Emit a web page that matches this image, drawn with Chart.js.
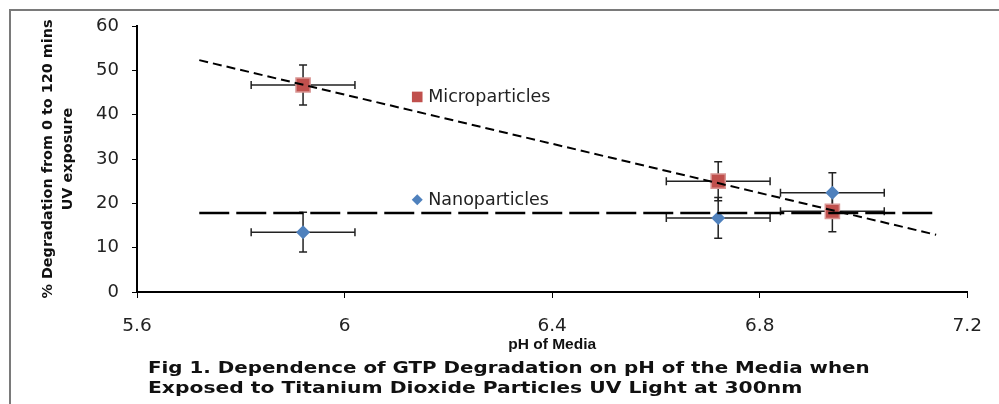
<!DOCTYPE html>
<html>
<head>
<meta charset="utf-8">
<script src="https://cdn.jsdelivr.net/npm/chart.js@4.4.1/dist/chart.umd.min.js"></script>
<style>
  html, body { margin: 0; padding: 0; background: #fff; overflow: hidden; }
  #wrap { position: relative; width: 999px; height: 404px; overflow: hidden; }
  .rule { position: absolute; background: #7a7a7a; }
  #chart { position: absolute; left: 0; top: 0; }
  .caption {
    position: absolute; left: 148px;
    font: bold 16px 'DejaVu Sans', Verdana, sans-serif; color: #111;
    white-space: nowrap; transform-origin: left center;
  }
</style>
</head>
<body>
<div id="wrap">
  <div class="rule" style="left:9px;top:9px;width:990px;height:2px"></div>
  <div class="rule" style="left:9px;top:9px;width:2px;height:395px"></div>
  <canvas id="chart" width="999" height="404"></canvas>
  <div class="caption" id="cap1" style="top:358px">Fig 1.  Dependence of GTP Degradation on pH of the Media when</div>
  <div class="caption" id="cap2" style="top:378px">Exposed to Titanium Dioxide Particles UV Light at 300nm</div>
</div>
<script>
// pH of media for each sample
const phMicro = [5.92, 6.72, 6.94];
const phNano = [5.92, 6.72, 6.94];
const phErr = [0.1, 0.1, 0.1];

// % degradation after 120 min UV
const microDeg = [46.7, 25.0, 18.2];
const microErr = [4.5, 4.4, 4.6];
const nanoDeg = [13.5, 16.7, 22.4];
const nanoErr = [4.5, 4.6, 4.5];

// trend lines as drawn in the figure
const trendPh = [5.72, 7.14];
const microTrend = [52.3, 12.9];
const nanoTrend = [17.8, 17.8];

// in-plot labels
const labelNames = ['Microparticles', 'Nanoparticles'];
const labelPh = [6.14, 6.14];
const labelDeg = [44.0, 20.8];

const xTicks = [5.6, 6, 6.4, 6.8, 7.2];

const RED = '#C0504D';
const BLUE = '#4F81BD';

const pts = (xs, ys) => xs.map((x, i) => ({ x, y: ys[i] }));

// fit the caption lines to their width in the figure
[['cap1', 722], ['cap2', 654]].forEach(([id, w]) => {
  const el = document.getElementById(id);
  el.style.transform = `scaleX(${w / el.offsetWidth})`;
});

const errorBars = {
  id: 'errorBars',
  beforeDatasetsDraw(chart) {
    const { ctx, scales: { x, y } } = chart;
    const sets = [
      [phMicro, microDeg, microErr],
      [phNano, nanoDeg, nanoErr],
    ];
    ctx.save();
    ctx.strokeStyle = '#222';
    ctx.lineWidth = 1.5;
    const cap = 4;
    sets.forEach(([xs, ys, es]) => {
      xs.forEach((v, i) => {
        const px = x.getPixelForValue(v);
        const py = y.getPixelForValue(ys[i]);
        const x0 = x.getPixelForValue(v - phErr[i]);
        const x1 = x.getPixelForValue(v + phErr[i]);
        const y0 = y.getPixelForValue(ys[i] - es[i]);
        const y1 = y.getPixelForValue(ys[i] + es[i]);
        ctx.beginPath();
        ctx.moveTo(x0, py); ctx.lineTo(x1, py);
        ctx.moveTo(x0, py - cap); ctx.lineTo(x0, py + cap);
        ctx.moveTo(x1, py - cap); ctx.lineTo(x1, py + cap);
        ctx.moveTo(px, y0); ctx.lineTo(px, y1);
        ctx.moveTo(px - cap, y0); ctx.lineTo(px + cap, y0);
        ctx.moveTo(px - cap, y1); ctx.lineTo(px + cap, y1);
        ctx.stroke();
      });
    });
    ctx.restore();
  },
};

const inPlotLabels = {
  id: 'inPlotLabels',
  afterDatasetsDraw(chart) {
    const { ctx, scales: { x, y } } = chart;
    const styles = [
      { pointStyle: 'rect', radius: 7.5, color: RED },
      { pointStyle: 'rectRot', radius: 5.5, color: BLUE },
    ];
    ctx.save();
    labelNames.forEach((name, i) => {
      const px = x.getPixelForValue(labelPh[i]);
      const py = y.getPixelForValue(labelDeg[i]);
      ctx.fillStyle = styles[i].color;
      ctx.strokeStyle = styles[i].color;
      Chart.helpers.drawPoint(ctx, { pointStyle: styles[i].pointStyle, radius: styles[i].radius, borderWidth: 0 }, px, py);
      ctx.fillStyle = '#222';
      ctx.font = "17.5px 'DejaVu Sans', Verdana, sans-serif";
      ctx.textBaseline = 'middle';
      ctx.fillText(name, px + 11, py + 1);
    });
    ctx.restore();
  },
};

new Chart(document.getElementById('chart'), {
  type: 'scatter',
  data: {
    datasets: [
      {
        label: 'Microparticles trend',
        data: pts(trendPh, microTrend),
        showLine: true,
        borderColor: '#000',
        borderWidth: 2,
        borderDash: [9, 5],
        pointRadius: 0,
        order: 0,
      },
      {
        label: 'Nanoparticles trend',
        data: pts(trendPh, nanoTrend),
        showLine: true,
        borderColor: '#000',
        borderWidth: 2.5,
        borderDash: [30, 7],
        pointRadius: 0,
        order: 0,
      },
      {
        label: 'Microparticles',
        data: pts(phMicro, microDeg),
        pointStyle: 'rect',
        pointRadius: 10,
        backgroundColor: RED,
        borderColor: '#D99694',
        borderWidth: 1.5,
        order: 1,
      },
      {
        label: 'Nanoparticles',
        data: pts(phNano, nanoDeg),
        pointStyle: 'rectRot',
        pointRadius: 7,
        backgroundColor: BLUE,
        borderColor: BLUE,
        borderWidth: 0,
        order: 1,
      },
    ],
  },
  options: {
    responsive: false,
    animation: false,
    layout: { padding: { left: 0, right: 24, top: 26, bottom: 0 } },
    plugins: {
      legend: { display: false },
      tooltip: { enabled: false },
    },
    scales: {
      x: {
        type: 'linear',
        min: 5.6,
        max: 7.2,
        afterBuildTicks: (scale) => {
          scale.ticks = xTicks.map((value) => ({ value }));
        },
        afterFit: (scale) => { scale.height = 112; },
        border: { color: '#000', width: 2 },
        grid: { drawOnChartArea: false, tickLength: 6, color: '#000', tickColor: '#000' },
        ticks: {
          color: '#222',
          padding: 17,
          maxRotation: 0,
          font: { family: "'DejaVu Sans', Verdana, sans-serif", size: 18.5 },
          callback: (v) => String(Math.round(v * 10) / 10),
        },
        title: {
          display: true,
          text: 'pH of Media',
          color: '#111',
          padding: { top: 0, bottom: 50 },
          font: { family: "'Liberation Sans', Arial, sans-serif", size: 15.5, weight: 'bold' },
        },
      },
      y: {
        min: 0,
        max: 60,
        afterFit: (scale) => { scale.width = 137; },
        border: { color: '#000', width: 2 },
        grid: { drawOnChartArea: false, tickLength: 5, color: '#000', tickColor: '#000' },
        ticks: {
          stepSize: 10,
          color: '#222',
          padding: 13,
          font: { family: "'DejaVu Sans', Verdana, sans-serif", size: 18 },
        },
        title: {
          display: true,
          text: ['% Degradation from 0 to 120 mins', 'UV exposure'],
          color: '#111',
          padding: { top: 39, bottom: 0 },
          font: { family: "'DejaVu Sans', Verdana, sans-serif", size: 14.4, weight: 'bold', lineHeight: 1.35 },
        },
      },
    },
  },
  plugins: [errorBars, inPlotLabels],
});
</script>
</body>
</html>
